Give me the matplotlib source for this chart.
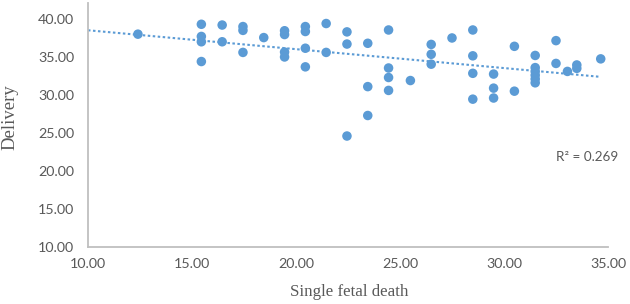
import matplotlib
matplotlib.use("Agg")
import matplotlib.pyplot as plt
import numpy as np

single_fetal_death = [12.4,
    15.45, 15.45, 15.45, 15.45,
    16.45, 16.45,
    17.45, 17.45, 17.45,
    18.45,
    19.45, 19.45, 19.45, 19.45,
    20.45, 20.45, 20.45, 20.45,
    21.45, 21.45,
    22.45, 22.45, 22.45,
    23.45, 23.45, 23.45,
    24.45, 24.45, 24.45, 24.45,
    25.5,
    26.5, 26.5, 26.5,
    27.5,
    28.5, 28.5, 28.5, 28.5,
    29.5, 29.5, 29.5,
    30.5, 30.5,
    31.5, 31.5, 31.5, 31.5, 31.5, 31.5,
    32.5, 32.5,
    33.05,
    33.5, 33.5,
    34.65]
delivery = [38.0,
    39.3, 37.7, 37.0, 34.4,
    39.2, 37.0,
    39.0, 38.5, 35.6,
    37.55,
    38.45, 37.95, 35.65, 35.0,
    39.0, 38.35, 36.15, 33.7,
    39.4, 35.6,
    38.3, 36.7, 24.6,
    36.8, 31.1, 27.3,
    38.55, 33.55, 32.3, 30.6,
    31.9,
    36.65, 35.35, 34.05,
    37.5,
    38.55, 35.15, 32.85, 29.45,
    32.75, 30.9, 29.6,
    36.4, 30.5,
    35.2, 33.6, 33.1, 32.6, 32.1, 31.6,
    37.15, 34.15,
    33.1,
    33.95, 33.5,
    34.75]
x_ticks = [10, 15, 20, 25, 30, 35]
y_ticks = [10, 15, 20, 25, 30, 35, 40]
r2_label = "R² = 0.269"

blue = "#5B9BD5"
gray_txt = "#595959"

fig = plt.figure(figsize=(6.3, 3.04), dpi=100)
ax = fig.add_axes([88/630, 1-247/304, (608-88)/630, 244/304])

x = np.array(single_fetal_death)
y = np.array(delivery)
ax.scatter(x, y, s=47, color=blue, edgecolors="none", zorder=3)

coef = np.polyfit(x, y, 1)
xl = np.array([10, x.max()])
ax.plot(xl, np.polyval(coef, xl), color=blue, lw=1.5,
        linestyle=(0, (1.2, 1.2)), zorder=2)

ax.set_xlim(10, 35)
ax.set_ylim(10, 42.1)
ax.set_xticks(x_ticks)
ax.set_yticks(y_ticks)
ax.set_xticklabels([f"{v:.2f}" for v in x_ticks])
ax.set_yticklabels([f"{v:.2f}" for v in y_ticks])
for sp in ["top", "right"]:
    ax.spines[sp].set_visible(False)
for sp in ["left", "bottom"]:
    ax.spines[sp].set_color("#BFBFBF")
    ax.spines[sp].set_linewidth(1.3)
ax.tick_params(length=0, labelsize=10.3, labelcolor=gray_txt)
ax.tick_params(axis="y", pad=10)
ax.tick_params(axis="x", pad=8)
for lab in ax.get_xticklabels() + ax.get_yticklabels():
    lab.set_family("Lato")

fig.text(349/630, 1-292/304, "Single fetal death", family="Liberation Serif",
         fontsize=12.2, color=gray_txt, ha="center", va="center")
fig.text(10/630, 1-117/304, "Delivery", family="Liberation Serif",
         fontsize=13.5, color=gray_txt, ha="center", va="center", rotation=90)
fig.text(618/630, 1-157/304, r2_label, family="Lato", fontsize=9.7,
         color=gray_txt, ha="right", va="center")

fig.savefig("out.png", dpi=100)
